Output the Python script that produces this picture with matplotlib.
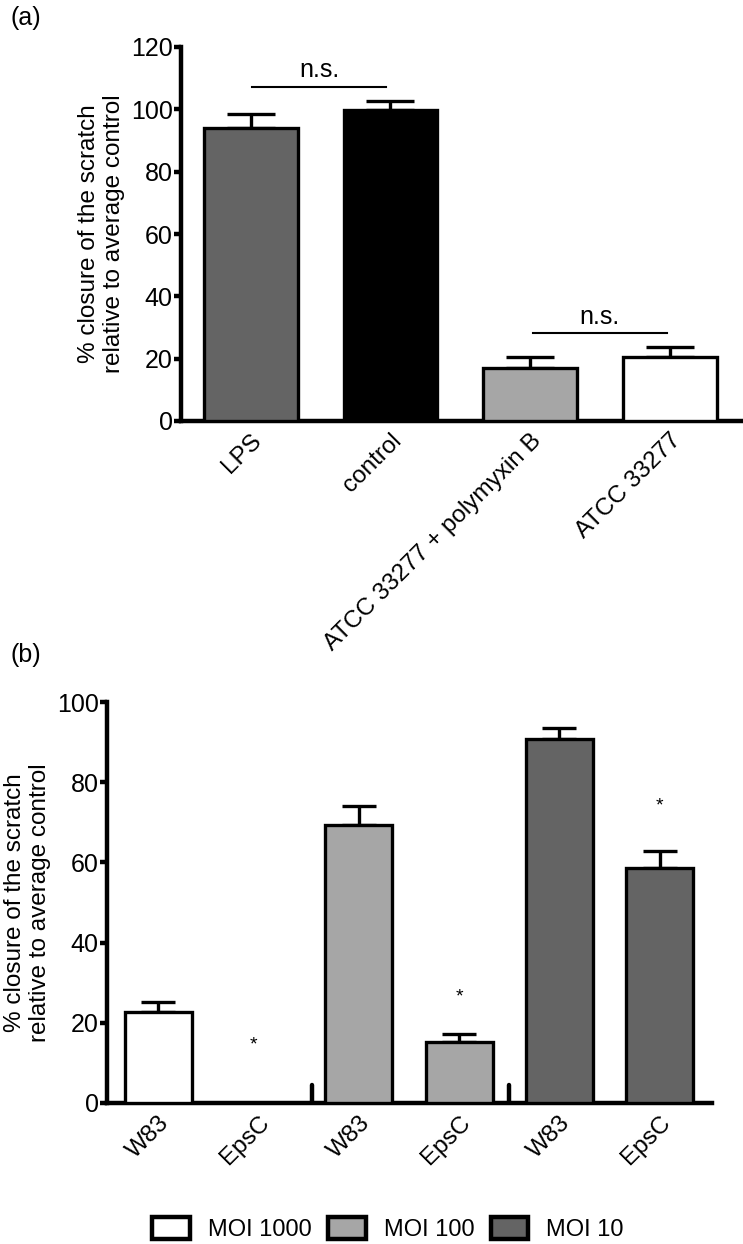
import numpy as np
import matplotlib.pyplot as plt
from matplotlib.patches import Patch

plt.rcParams['font.family'] = ['Liberation Sans', 'DejaVu Sans']

# panel (a) data
a_labels = ['LPS', 'control', 'ATCC 33277 + polymyxin B', 'ATCC 33277']
a_means = [94.0, 99.7, 17.0, 20.6]
a_err = [4.5, 3.0, 3.6, 3.1]
a_colors = ['#646464', '#000000', '#a6a6a6', '#ffffff']

# panel (b) data
b_labels = ['W83', 'EpsC', 'W83', 'EpsC', 'W83', 'EpsC']
b_means = [22.8, 0.0, 69.4, 15.2, 90.8, 58.5]
b_err = [2.5, 0.0, 4.7, 2.1, 2.8, 4.3]
b_star = [None, 14.4, None, 26.4, None, 74.1]
moi_names = ['MOI 1000', 'MOI 100', 'MOI 10']
moi_colors = ['#ffffff', '#a6a6a6', '#646464']
b_colors = [moi_colors[0], moi_colors[0], moi_colors[1], moi_colors[1], moi_colors[2], moi_colors[2]]

fs = 18
fs_lab = 17.5
lw_axis = 3.2
lw_bar = 2.4

fig = plt.figure(figsize=(7.43, 12.44), dpi=100)

def style(ax):
    for s in ['top', 'right']:
        ax.spines[s].set_visible(False)
    for s in ['left', 'bottom']:
        ax.spines[s].set_linewidth(lw_axis)
    ax.tick_params(axis='y', direction='out', length=5, width=lw_axis, labelsize=fs, pad=1)
    ax.tick_params(axis='x', length=0, labelsize=fs_lab, pad=6)

# ---------- (a)
ax1 = fig.add_axes([181/743, 1-421/1244, 560/743, 374/1244])
xa = np.arange(len(a_labels))
ax1.bar(xa, a_means, width=0.67, color=a_colors, edgecolor='black', linewidth=lw_bar, zorder=3)
ax1.errorbar(xa, a_means, yerr=[np.zeros(len(a_err)), a_err], fmt='none', ecolor='black',
             elinewidth=lw_bar, capsize=17, capthick=lw_bar, zorder=2)
ax1.set_xlim(-0.5, 3.51)
ax1.set_ylim(0, 120)
ax1.set_yticks(np.arange(0, 121, 20))
ax1.set_xticks(xa)
ax1.set_xticklabels(a_labels, rotation=45, ha='right', rotation_mode='anchor')
ax1.set_ylabel('% closure of the scratch\nrelative to average control', fontsize=fs_lab, labelpad=4)
style(ax1)
# n.s. brackets
ax1.plot([0.01, 0.97], [107.2, 107.2], color='black', lw=1.5, clip_on=False)
ax1.text(0.49, 112.6, 'n.s.', ha='center', va='center', fontsize=fs)
ax1.plot([2.02, 2.98], [28.2, 28.2], color='black', lw=1.5)
ax1.text(2.5, 33.4, 'n.s.', ha='center', va='center', fontsize=fs)
fig.text(10/743, 1-18/1244, '(a)', fontsize=fs, va='center', ha='left')

# ---------- (b)
ax2 = fig.add_axes([107/743, 1-1103/1244, 605/743, 401/1244])
xb = np.arange(len(b_labels))
ax2.bar(xb, b_means, width=0.67, color=b_colors, edgecolor='black', linewidth=lw_bar, zorder=3)
eb = [i for i in xb if b_err[i] > 0]
ax2.errorbar(xb[eb], np.array(b_means)[eb], yerr=[np.zeros(len(eb)), np.array(b_err)[eb]],
             fmt='none', ecolor='black', elinewidth=lw_bar, capsize=12, capthick=lw_bar, zorder=2)
for i, s in enumerate(b_star):
    if s is not None:
        ax2.text(xb[i] - 0.05 if i == 1 else xb[i], s, '*', ha='center', va='center', fontsize=14)
# group separators
for xs in [1.53, 3.5]:
    ax2.plot([xs, xs], [0, 4.5], color='black', lw=lw_axis, solid_capstyle='round')
ax2.set_xlim(-0.51, 5.52)
ax2.set_ylim(0, 100)
ax2.set_yticks(np.arange(0, 101, 20))
ax2.set_xticks(xb)
ax2.set_xticklabels(b_labels, rotation=45, ha='right', rotation_mode='anchor')
ax2.set_ylabel('% closure of the scratch\nrelative to average control', fontsize=fs_lab, labelpad=4)
style(ax2)
fig.text(10/743, 1-655/1244, '(b)', fontsize=fs, va='center', ha='left')

handles = [Patch(facecolor=c, edgecolor='black', linewidth=lw_axis) for c in moi_colors]
fig.legend(handles, moi_names, loc='center', bbox_to_anchor=(388/743, 1-1229/1244), ncol=3,
           frameon=False, fontsize=17, handlelength=1.6, handleheight=1.1,
           handletextpad=0.75, columnspacing=0.7, borderaxespad=0, borderpad=0)

fig.savefig('out.png', dpi=100)
